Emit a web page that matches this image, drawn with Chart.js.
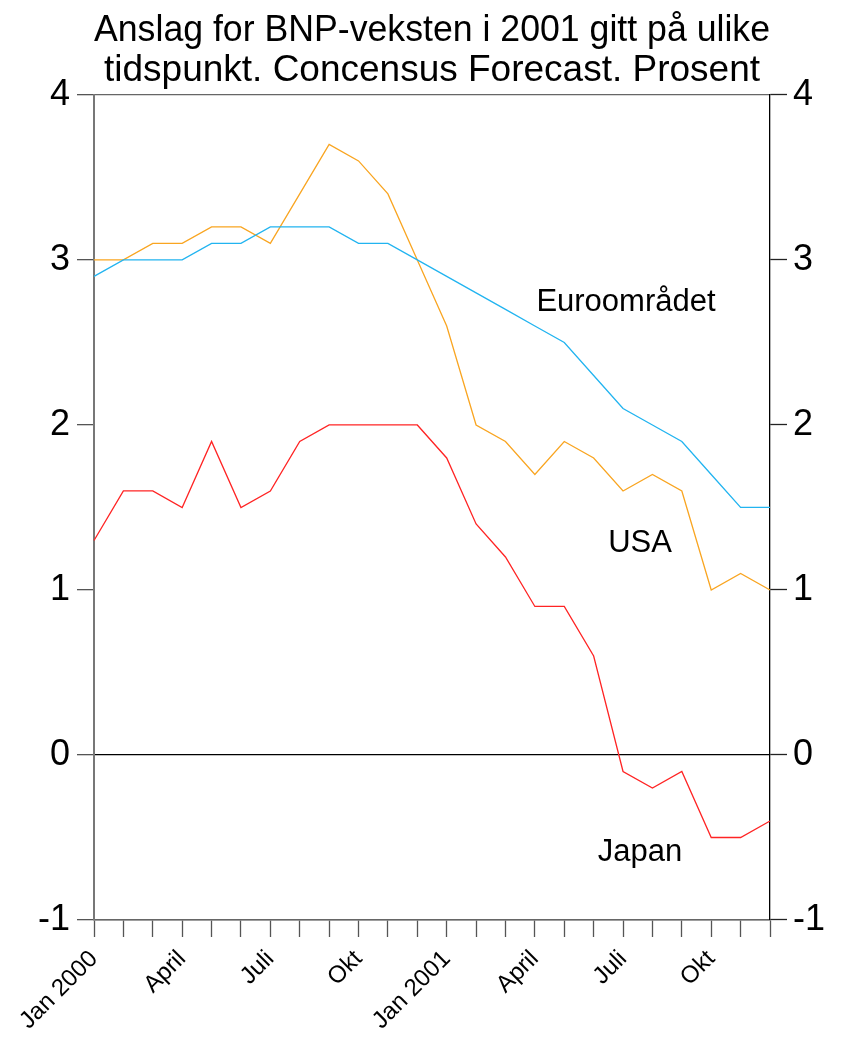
<!DOCTYPE html>
<html>
<head>
<meta charset="utf-8">
<script src="https://cdn.jsdelivr.net/npm/chart.js@4"></script>
<style>
  html, body { margin: 0; padding: 0; background: #fff; }
  #wrap { width: 841px; height: 1038px; }
</style>
</head>
<body>
<div id="wrap"><canvas id="chart" width="841" height="1038"></canvas></div>
<script>
// months Jan 2000 .. Dec 2001, label shown every quarter
const months = [
  "Jan 2000", "", "", "April", "", "", "Juli", "", "", "Okt", "", "",
  "Jan 2001", "", "", "April", "", "", "Juli", "", "", "Okt", "", ""
];

const euro = [2.9, 3.0, 3.0, 3.0, 3.1, 3.1, 3.2, 3.2, 3.2, 3.1, 3.1, 3.0,
              2.9, 2.8, 2.7, 2.6, 2.5, 2.3, 2.1, 2.0, 1.9, 1.7, 1.5, 1.5];
const usa = [3.0, 3.0, 3.1, 3.1, 3.2, 3.2, 3.1, 3.4, 3.7, 3.6, 3.4, 3.0,
             2.6, 2.0, 1.9, 1.7, 1.9, 1.8, 1.6, 1.7, 1.6, 1.0, 1.1, 1.0];
const japan = [1.3, 1.6, 1.6, 1.5, 1.9, 1.5, 1.6, 1.9, 2.0, 2.0, 2.0, 2.0,
               1.8, 1.4, 1.2, 0.9, 0.9, 0.6, -0.1, -0.2, -0.1, -0.5, -0.5, -0.4];

// in-plot series labels: text, month index, value
const seriesLabels = [
  { text: "Euroområdet", x: 18.1, y: 2.74 },
  { text: "USA", x: 18.58, y: 1.28 },
  { text: "Japan", x: 18.58, y: -0.59 }
];

const font = "'Liberation Sans', Arial, sans-serif";

const yGrid = ctx => {
  const v = ctx.tick && ctx.tick.value;
  if (v === 0) return "#000";
  if (v === 4 || v === -1) return "#666";
  return "rgba(0,0,0,0)";
};

const labelPlugin = {
  id: "seriesLabels",
  afterDatasetsDraw(chart) {
    const c = chart.ctx;
    const xs = chart.scales.x, ys = chart.scales.y;
    c.save();
    c.font = "31px " + font;
    c.fillStyle = "#000";
    c.textAlign = "center";
    c.textBaseline = "middle";
    for (const l of seriesLabels) {
      c.fillText(l.text, xs.getPixelForValue(l.x), ys.getPixelForValue(l.y));
    }
    c.restore();
  }
};

const line = (data, color) => ({
  data, borderColor: color, backgroundColor: color,
  borderWidth: 1.3, pointRadius: 0, tension: 0, fill: false
});

new Chart(document.getElementById("chart"), {
  type: "line",
  data: {
    labels: months,
    datasets: [
      line(euro, "#22b4f0"),
      line(usa, "#f9a521"),
      line(japan, "#ff2424")
    ]
  },
  options: {
    responsive: false,
    animation: false,
    layout: { padding: 0 },
    plugins: {
      legend: { display: false },
      tooltip: { enabled: false },
      title: {
        display: true,
        fullSize: false,
        text: ["Anslag for BNP-veksten i 2001 gitt på ulike", "tidspunkt. Concensus Forecast. Prosent"],
        color: "#000",
        font: { family: font, size: 37, weight: "normal", lineHeight: 1.08 },
        padding: { top: 11, bottom: 4 }
      }
    },
    scales: {
      x: {
        type: "category",
        offset: false,
        grid: { drawOnChartArea: false, tickLength: 17, tickColor: "#555", tickWidth: 1.3 },
        border: { color: "#666", width: 1.5 },
        ticks: {
          autoSkip: false, maxRotation: 45, minRotation: 45,
          color: "#000", padding: 8,
          font: { family: font, size: 24 }
        },
        afterFit(s) { s.height = 118; }
      },
      y: {
        position: "left",
        min: -1, max: 4,
        grid: { color: yGrid, lineWidth: 1.3, tickLength: 17, tickColor: "#555", tickWidth: 1.3 },
        border: { color: "#777", width: 2 },
        ticks: { stepSize: 1, color: "#000", padding: 7, font: { family: font, size: 36 } },
        afterFit(s) { s.width = 94; }
      },
      y2: {
        position: "right",
        min: -1, max: 4,
        grid: { drawOnChartArea: false, tickLength: 17, tickColor: "#222", tickWidth: 1.3 },
        border: { color: "#000", width: 1.3 },
        ticks: { stepSize: 1, color: "#000", padding: 6, font: { family: font, size: 36 } },
        afterFit(s) { s.width = 71; }
      }
    }
  },
  plugins: [labelPlugin]
});
</script>
</body>
</html>
